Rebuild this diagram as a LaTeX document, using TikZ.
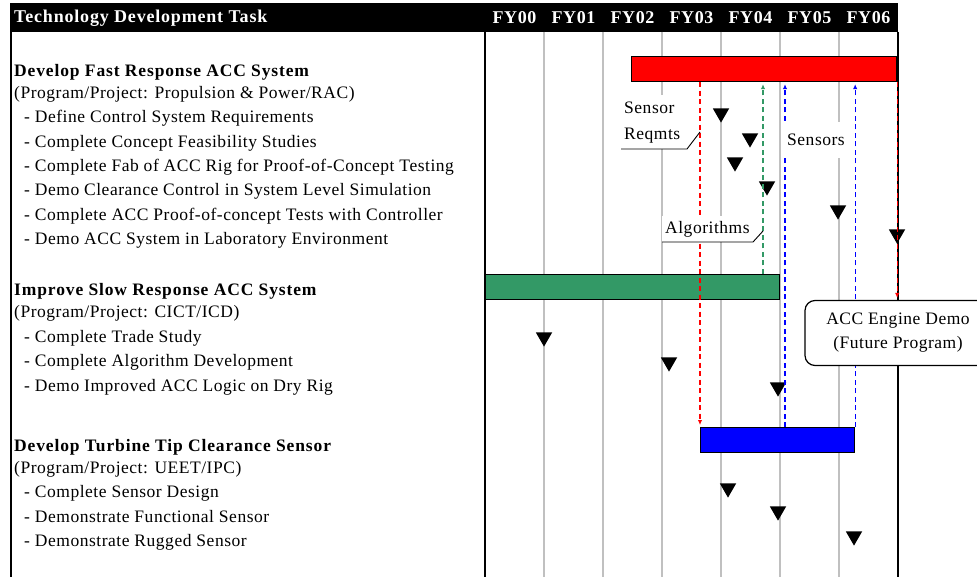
\documentclass[tikz,border=0pt]{standalone}
\usepackage{fontspec}
\setmainfont{Liberation Serif}[LetterSpace=3]
\usetikzlibrary{arrows.meta, positioning, shapes.geometric}
\definecolor{algogreen}{RGB}{51,153,102}
\definecolor{gridgray}{RGB}{192,192,192}

\begin{document}
\begin{tikzpicture}[
    x=1pt, y=-1pt,
    every node/.style={font=\fontsize{17.5}{21}\selectfont},
    task/.style={anchor=north west, inner sep=0pt, text height=12.5pt, text depth=4pt},
    taskhead/.style={task, anchor=base west, font=\fontsize{17.5}{21}\selectfont\bfseries\addfontfeatures{LetterSpace=5}},
    yearlbl/.style={text=white, inner sep=0pt, font=\fontsize{18}{21}\selectfont\bfseries},
    bar/.style={draw=black, line width=1.2pt, minimum height=25pt, inner sep=0pt, anchor=north west},
    mile/.style={regular polygon, regular polygon sides=3, shape border rotate=180, fill=black, minimum size=19pt, inner sep=0pt, anchor=corner 1},
    gridline/.style={gridgray, line width=2pt},
    link/.style={-{Latex[length=5pt, width=4.5pt]}, line width=1.2pt, dash pattern=on 5pt off 3.5pt, shorten >=2pt},
    tag/.style={fill=white, inner xsep=3pt, align=left},
    leader/.style={line width=0.9pt}
]
\useasboundingbox (0,0) rectangle (977,577);

% Kopfzeile
\node[fill=black, minimum width=888pt, minimum height=29pt, inner sep=0pt, anchor=north west] (hdr) at (10,3) {};
\node[anchor=west, text=white, inner sep=0pt, font=\fontsize{18}{21}\selectfont\bfseries\addfontfeatures{LetterSpace=4.5}] (hdrtxt) at (14,18) {Technology Development Task};
\foreach \yr [count=\i from 0] in {FY00,FY01,FY02,FY03,FY04,FY05,FY06}
    \node[yearlbl] (fy\i) at (514.5+59*\i,18) {\yr};

% Gitter und Rahmen
\foreach \i in {1,...,6}
    \draw[gridline] (485+59*\i,32) -- (485+59*\i,580);
\draw[line width=2.5pt] (11,32) -- (11,580);
\draw[line width=2.5pt] (485,32) -- (485,580);
\draw[line width=2pt] (898,32) -- (898,580);

% Aufgaben
\node[taskhead] (fast) at (14,76.5) {Develop Fast Response ACC System};
\node[below=5pt of fast.south west, task] (fastprog) {(Program/Project: Propulsion \& Power/RAC)};
\node[below=7.5pt of fastprog.south west, task, xshift=10pt] (fast1) {- Define Control System Requirements};
\node[below=7.5pt of fast1.south west, task] (fast2) {- Complete Concept Feasibility Studies};
\node[below=7.5pt of fast2.south west, task] (fast3) {- Complete Fab of ACC Rig for Proof-of-Concept Testing};
\node[below=7.5pt of fast3.south west, task] (fast4) {- Demo Clearance Control in System Level Simulation};
\node[below=7.5pt of fast4.south west, task] (fast5) {- Complete ACC Proof-of-concept Tests with Controller};
\node[below=7.5pt of fast5.south west, task] (fast6) {- Demo ACC System in Laboratory Environment};

\node[taskhead] (slow) at (14,296) {Improve Slow Response ACC System};
\node[below=5pt of slow.south west, task] (slowprog) {(Program/Project: CICT/ICD)};
\node[below=7.5pt of slowprog.south west, task, xshift=10pt] (slow1) {- Complete Trade Study};
\node[below=7.5pt of slow1.south west, task] (slow2) {- Complete Algorithm Development};
\node[below=7.5pt of slow2.south west, task] (slow3) {- Demo Improved ACC Logic on Dry Rig};

\node[taskhead] (sens) at (14,451.5) {Develop Turbine Tip Clearance Sensor};
\node[below=5pt of sens.south west, task] (sensprog) {(Program/Project: UEET/IPC)};
\node[below=7.5pt of sensprog.south west, task, xshift=10pt] (sens1) {- Complete Sensor Design};
\node[below=7.5pt of sens1.south west, task] (sens2) {- Demonstrate Functional Sensor};
\node[below=7.5pt of sens2.south west, task] (sens3) {- Demonstrate Rugged Sensor};

% Balken
\node[bar, fill=red, minimum width=265pt] (fastbar) at (631,56) {};
\node[bar, fill=algogreen, minimum width=294pt] (slowbar) at (485,274) {};
\node[bar, fill=blue, minimum width=154pt] (sensbar) at (700,427) {};

% Meilensteine
\node[mile] (mf1) at (721,123) {};
\node[mile] (mf2) at (750,148) {};
\node[mile] (mf3) at (735,172) {};
\node[mile] (mf4) at (767,196) {};
\node[mile] (mf5) at (838,220) {};
\node[mile] (mf6) at (897,244) {};
\node[mile] (ms1) at (544,347) {};
\node[mile] (ms2) at (669,372) {};
\node[mile] (ms3) at (778,397) {};
\node[mile] (mt1) at (728,498) {};
\node[mile] (mt2) at (778,521) {};
\node[mile] (mt3) at (854,546) {};

% Abhaengigkeiten (unter dem Demo-Kasten)
\coordinate (algtap) at (763,274);
\coordinate (senstap) at (785,427);
\draw[link, algogreen] (algtap) -- (algtap |- fastbar.south);
\draw[link, blue] (senstap) -- (senstap |- fastbar.south);
\draw[link, blue] (sensbar.north east) -- (sensbar.north east |- fastbar.south);

% Demo-Kasten
\node[draw, fill=white, rounded corners=10pt, line width=1.2pt, minimum width=186pt, minimum height=65pt, align=center, font=\fontsize{17.5}{24}\selectfont] (demo) at (898,333) {ACC Engine Demo\\(Future Program)};

\draw[link, red] (fastbar.south -| sensbar.north west) -- (sensbar.north west);
\draw[link, red] (fastbar.south east) -- (fastbar.south east |- demo.north);

% Beschriftungen
\node[tag, anchor=south west, inner ysep=6pt, font=\fontsize{17.5}{26}\selectfont] (sreq) at (621,149) {Sensor\\Reqmts};
\draw[leader] (sreq.south west) -- ++(66,0) -- ++(13,-17);
\node[tag, anchor=south west, inner ysep=5pt] (algo) at (662,242) {Algorithms};
\draw[leader] (algo.south west) -- ++(91,0) -- ++(10,-11);
\node[tag, minimum width=67pt, minimum height=36pt] (sensors) at (816,140) {Sensors};

\end{tikzpicture}
\end{document}
